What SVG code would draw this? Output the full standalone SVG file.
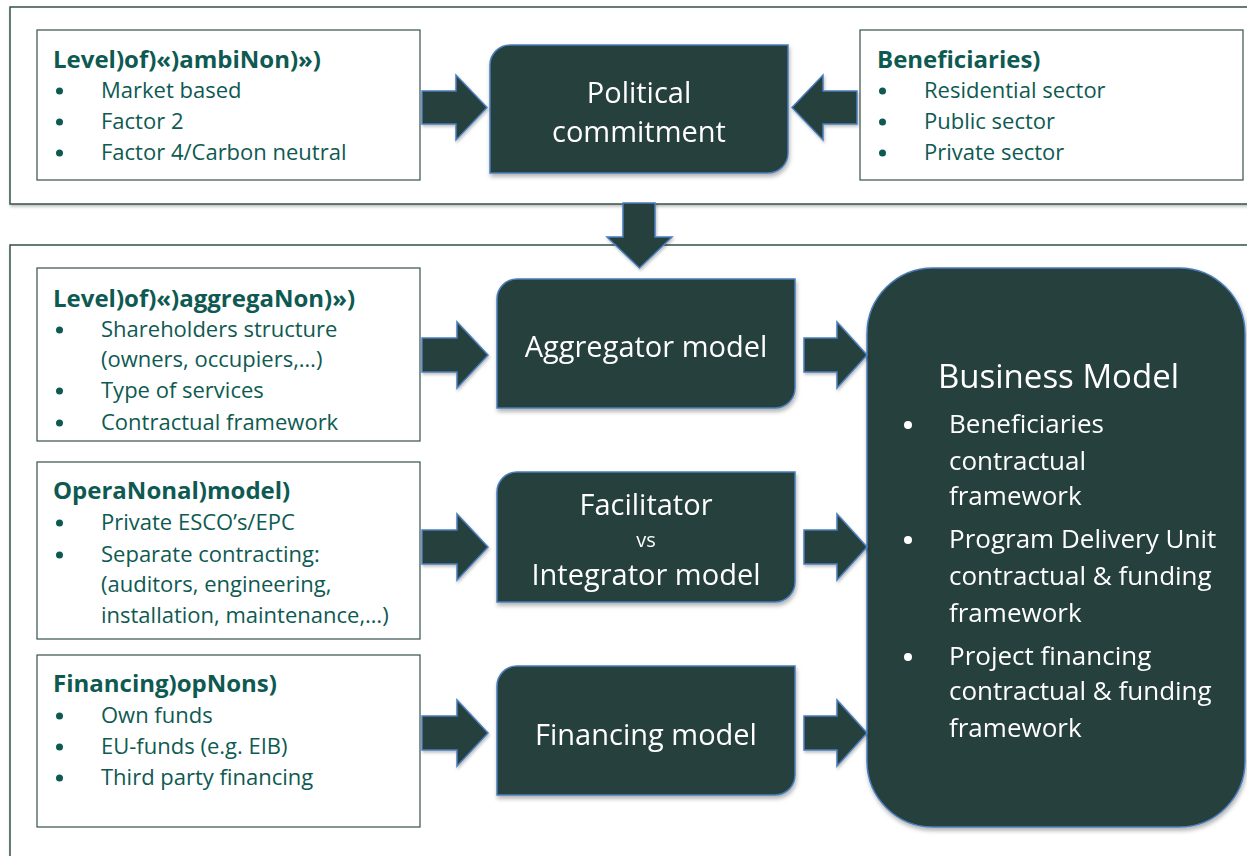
<svg xmlns="http://www.w3.org/2000/svg" width="1247" height="856" viewBox="0 0 1247 856">
<defs>
<filter id="sh" x="-10%" y="-10%" width="130%" height="130%">
<feDropShadow dx="1" dy="3" stdDeviation="2" flood-color="#000" flood-opacity="0.3"/>
</filter>
<filter id="sh2" x="-5%" y="-5%" width="110%" height="110%">
<feDropShadow dx="1" dy="2" stdDeviation="1.5" flood-color="#000" flood-opacity="0.25"/>
</filter>
</defs>
<style>
.frame{fill:#fff;stroke:#34504d;stroke-width:1.5}
.box{fill:#fff;stroke:#34504d;stroke-width:1.2}
.dark{fill:#263f3d;stroke:#4a7ebb;stroke-width:1.5}
.arrow{fill:#263f3d;stroke:#4a7ebb;stroke-width:1.5;stroke-linejoin:miter}
.hd{font-family:"Open Sans","Noto Sans",sans-serif;font-weight:bold;font-size:24px;fill:#0e5a52}
.it{font-family:"Open Sans","Noto Sans",sans-serif;font-size:22px;fill:#0e5a52}
.bul{fill:#0e5a52}
.wt{font-family:"Open Sans","Noto Sans",sans-serif;fill:#fff;text-anchor:middle;font-size:29px}
.vs{font-size:20px}
.bt{font-family:"Open Sans","Noto Sans",sans-serif;fill:#fff;font-size:26px}
.title{font-size:33px}
</style>
<rect class="frame" x="10" y="7" width="1245" height="197" filter="url(#sh2)"/>
<rect class="frame" x="10" y="245" width="1245" height="620" filter="url(#sh2)"/>

<g id="ambition">
<rect class="box" x="37" y="30" width="383" height="150"/>
<text class="hd" x="53" y="68">Level)of)«)ambiNon)»)</text>
<circle class="bul" cx="59.5" cy="91" r="3.5"/><text class="it" x="101" y="98">Market based</text>
<circle class="bul" cx="59.5" cy="122" r="3.5"/><text class="it" x="101" y="129">Factor 2</text>
<circle class="bul" cx="59.5" cy="153" r="3.5"/><text class="it" x="101" y="160">Factor 4/Carbon neutral</text>
</g>

<g id="beneficiaries">
<rect class="box" x="860" y="30" width="383" height="150"/>
<text class="hd" x="877" y="68">Beneficiaries)</text>
<circle class="bul" cx="882.5" cy="91" r="3.5"/><text class="it" x="924" y="98">Residential sector</text>
<circle class="bul" cx="882.5" cy="122" r="3.5"/><text class="it" x="924" y="129">Public sector</text>
<circle class="bul" cx="882.5" cy="153" r="3.5"/><text class="it" x="924" y="160">Private sector</text>
</g>

<g id="political" filter="url(#sh)">
<path class="dark" d="M510,45 H788 V153 A20,20 0 0 1 768,173 H490 V65 A20,20 0 0 1 510,45 Z"/>
<text class="wt" x="639" y="103">Political</text>
<text class="wt" x="639" y="142">commitment</text>
</g>

<g id="aggregation">
<rect class="box" x="37" y="268" width="383" height="173"/>
<text class="hd" x="53" y="307">Level)of)«)aggregaNon)»)</text>
<circle class="bul" cx="59.5" cy="330" r="3.5"/><text class="it" x="101" y="337">Shareholders structure</text>
<text class="it" x="101" y="367">(owners, occupiers,…)</text>
<circle class="bul" cx="59.5" cy="391" r="3.5"/><text class="it" x="101" y="398">Type of services</text>
<circle class="bul" cx="59.5" cy="423" r="3.5"/><text class="it" x="101" y="430">Contractual framework</text>
</g>

<g id="operational">
<rect class="box" x="37" y="462" width="383" height="177"/>
<text class="hd" x="53" y="499">OperaNonal)model)</text>
<circle class="bul" cx="59.5" cy="523" r="3.5"/><text class="it" x="101" y="530">Private ESCO’s/EPC</text>
<circle class="bul" cx="59.5" cy="555" r="3.5"/><text class="it" x="101" y="562">Separate contracting:</text>
<text class="it" x="101" y="592">(auditors, engineering,</text>
<text class="it" x="101" y="623">installation, maintenance,…)</text>
</g>

<g id="financing-options">
<rect class="box" x="37" y="655" width="383" height="172"/>
<text class="hd" x="53" y="692">Financing)opNons)</text>
<circle class="bul" cx="59.5" cy="716" r="3.5"/><text class="it" x="101" y="723">Own funds</text>
<circle class="bul" cx="59.5" cy="747" r="3.5"/><text class="it" x="101" y="754">EU-funds (e.g. EIB)</text>
<circle class="bul" cx="59.5" cy="778" r="3.5"/><text class="it" x="101" y="785">Third party financing</text>
</g>

<g id="aggregator" filter="url(#sh)">
<path class="dark" d="M517,279 H795 V388 A20,20 0 0 1 775,408 H497 V299 A20,20 0 0 1 517,279 Z"/>
<text class="wt" x="646" y="357">Aggregator model</text>
</g>

<g id="facilitator" filter="url(#sh)">
<path class="dark" d="M517,472 H795 V582 A20,20 0 0 1 775,602 H497 V492 A20,20 0 0 1 517,472 Z"/>
<text class="wt" x="646" y="515">Facilitator</text>
<text class="wt vs" x="646" y="547">vs</text>
<text class="wt" x="646" y="585">Integrator model</text>
</g>

<g id="financing-model" filter="url(#sh)">
<path class="dark" d="M517,666 H795 V775 A20,20 0 0 1 775,795 H497 V686 A20,20 0 0 1 517,666 Z"/>
<text class="wt" x="646" y="745">Financing model</text>
</g>

<g id="business-model" filter="url(#sh)">
<rect class="dark" x="867" y="268" width="378" height="559" rx="66" ry="66"/>
<text class="bt title" x="938" y="388">Business Model</text>
<circle cx="908" cy="425" r="4" fill="#fff"/>
<text class="bt" x="949" y="433">Beneficiaries</text>
<text class="bt" x="949" y="470">contractual</text>
<text class="bt" x="949" y="505">framework</text>
<circle cx="908" cy="540" r="4" fill="#fff"/>
<text class="bt" x="949" y="548">Program Delivery Unit</text>
<text class="bt" x="949" y="585">contractual &amp; funding</text>
<text class="bt" x="949" y="622">framework</text>
<circle cx="908" cy="657" r="4" fill="#fff"/>
<text class="bt" x="949" y="665">Project financing</text>
<text class="bt" x="949" y="700">contractual &amp; funding</text>
<text class="bt" x="949" y="737">framework</text>
</g>

<g id="connectors" filter="url(#sh2)">
<path class="arrow" d="M422,91 H456 V75 L487,107.5 L456,140 V124 H422 Z"/>
<path class="arrow" d="M857,91 H823 V75 L792,107.5 L823,140 V124 H857 Z"/>
<path class="arrow" d="M623,203 H655 V237 H672 L639.5,268 L607,237 H623 Z"/>
<path class="arrow" d="M422,338 H457 V322 L488,355 L457,388 V372 H422 Z"/>
<path class="arrow" d="M422,530 H457 V514 L488,547 L457,580 V564 H422 Z"/>
<path class="arrow" d="M422,716 H457 V700 L488,733 L457,766 V750 H422 Z"/>
<path class="arrow" d="M804,338 H837 V322 L867,355 L837,388 V372 H804 Z"/>
<path class="arrow" d="M804,530 H837 V514 L867,547 L837,580 V564 H804 Z"/>
<path class="arrow" d="M804,716 H837 V700 L867,733 L837,766 V750 H804 Z"/>
</g>
</svg>
